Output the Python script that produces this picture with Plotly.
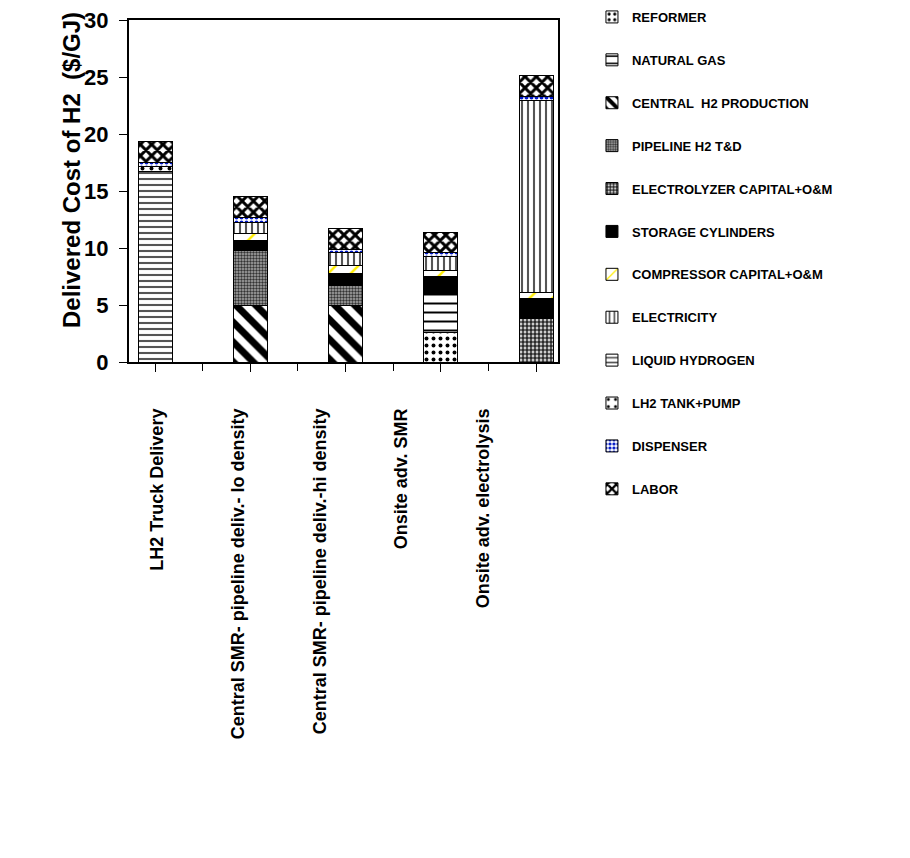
import plotly.graph_objects as go

categories = [
    "LH2 Truck Delivery",
    "Central SMR- pipeline deliv.- lo density",
    "Central SMR- pipeline deliv.-hi density",
    "Onsite adv. SMR",
    "Onsite adv. electrolysis",
]

# cost components ($/GJ), stacked bottom to top in this order
reformer = [0, 0, 0, 2.55, 0]
natural_gas = [0, 0, 0, 3.33, 0]
central_h2 = [0, 5.0, 5.0, 0, 0]
pipeline = [0, 4.8, 1.75, 0, 0]
electrolyzer = [0, 0, 0, 0, 3.86]
storage = [0, 0.88, 1.05, 1.58, 1.75]
compressor = [0, 0.6, 0.7, 0.6, 0.53]
electricity = [0, 1.0, 1.1, 1.23, 16.76]
liquid_h2 = [16.7, 0, 0, 0, 0]
lh2_tank = [0.45, 0, 0, 0, 0]
dispenser = [0.35, 0.4, 0.3, 0.35, 0.35]
labor = [1.8, 1.85, 1.85, 1.75, 1.85]

series = [
    ("REFORMER", reformer, dict(shape=".", fg="#000", bg="#fff", size=7, solidity=0.25)),
    ("NATURAL GAS", natural_gas, dict(shape="-", fg="#000", bg="#fff", size=9, solidity=0.22)),
    ("CENTRAL  H2 PRODUCTION", central_h2, dict(shape="\\", fg="#000", bg="#fff", size=14, solidity=0.5)),
    ("PIPELINE H2 T&D", pipeline, dict(shape=".", fg="#333", bg="#aaa", size=3, solidity=0.5)),
    ("ELECTROLYZER CAPITAL+O&M", electrolyzer, dict(shape="+", fg="#000", bg="#ccc", size=4, solidity=0.5)),
    ("STORAGE CYLINDERS", storage, dict(shape="", fg="#000", bg="#000")),
    ("COMPRESSOR CAPITAL+O&M", compressor, dict(shape="/", fg="#ffee00", bg="#fff", size=16, solidity=0.15)),
    ("ELECTRICITY", electricity, dict(shape="|", fg="#555", bg="#fff", size=6, solidity=0.35)),
    ("LIQUID HYDROGEN", liquid_h2, dict(shape="-", fg="#555", bg="#fff", size=6, solidity=0.35)),
    ("LH2 TANK+PUMP", lh2_tank, dict(shape=".", fg="#000", bg="#fff", size=9, solidity=0.15)),
    ("DISPENSER", dispenser, dict(shape=".", fg="#0018c8", bg="#fff", size=5, solidity=0.5)),
    ("LABOR", labor, dict(shape="x", fg="#000", bg="#fff", size=8, solidity=0.6)),
]

fig = go.Figure()
for name, vals, pat in series:
    fig.add_trace(go.Bar(
        x=categories,
        y=vals,
        name=name,
        legendgroup=name,
        width=0.357,
        marker=dict(
            color=pat["bg"],
            line=dict(color="#000", width=1),
            pattern=dict(
                shape=pat["shape"],
                fgcolor=pat["fg"],
                bgcolor=pat["bg"],
                fgopacity=1,
                size=pat.get("size", 8),
                solidity=pat.get("solidity", 0.3),
                fillmode="overlay",
            ),
        ),
    ))

n = len(categories)
# category names sit on a separate, slightly tighter bottom axis
fig.add_trace(go.Scatter(x=list(range(n)), y=[None] * n, xaxis="x2",
                         showlegend=False, hoverinfo="skip"))
# extra tick marks between the categories
fig.add_trace(go.Scatter(x=list(range(n)), y=[None] * n, xaxis="x3",
                         showlegend=False, hoverinfo="skip"))

font_family = "Liberation Sans, Arial, sans-serif"
x_range = [-0.273, 4.23]

fig.update_layout(
    barmode="stack",
    width=910,
    height=858,
    margin=dict(l=129, r=352, t=20, b=496, autoexpand=False),
    paper_bgcolor="#fff",
    plot_bgcolor="#fff",
    font=dict(family=font_family, color="#000"),
    showlegend=True,
    legend=dict(
        xref="container", yref="container",
        x=0.6505, xanchor="left", y=0.9977, yanchor="top",
        traceorder="grouped",
        tracegroupgap=23,
        maxheight=800,
        font=dict(size=13, family=font_family, weight="bold"),
        bgcolor="rgba(0,0,0,0)",
        itemwidth=30,
    ),
    xaxis=dict(
        range=x_range,
        showticklabels=False,
        showline=True, linecolor="#000", linewidth=2, mirror=True,
        ticks="outside", ticklen=8, tickcolor="#000",
        showgrid=False,
    ),
    xaxis2=dict(
        overlaying="x",
        side="bottom",
        range=[-0.344, 4.92],
        tickmode="array",
        tickvals=list(range(n)),
        ticktext=categories,
        tickangle=-90,
        ticks="",
        ticklabelstandoff=42,
        tickfont=dict(size=18, weight="bold"),
        showline=False, showgrid=False, zeroline=False,
    ),
    xaxis3=dict(
        overlaying="x",
        side="bottom",
        range=x_range,
        tickmode="array",
        tickvals=[i + 0.5 for i in range(n - 1)],
        showticklabels=False,
        ticks="outside", ticklen=8, tickcolor="#000",
        showline=False, showgrid=False, zeroline=False,
    ),
    yaxis=dict(
        range=[0, 30],
        dtick=5,
        tickfont=dict(size=22, weight="bold"),
        ticklabelstandoff=6,
        showline=True, linecolor="#000", linewidth=2, mirror=True,
        ticks="outside", ticklen=8, tickcolor="#000",
        showgrid=False, zeroline=False,
    ),
    annotations=[dict(
        text="Delivered Cost of H2  ($/GJ)",
        xref="paper", yref="paper",
        x=-0.134, y=0.56, xanchor="center", yanchor="middle",
        textangle=-90, showarrow=False,
        font=dict(size=24, weight="bold"),
    )],
)

fig.write_html("out.html")
